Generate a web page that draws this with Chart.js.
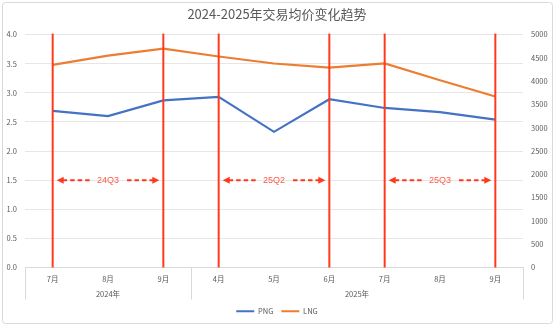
<!DOCTYPE html>
<html>
<head>
<meta charset="utf-8">
<script src="https://cdn.jsdelivr.net/npm/chart.js@4"></script>
<style>
  html, body { margin: 0; padding: 0; background: #fff; }
  #wrap { width: 554px; height: 325px; position: relative; }
</style>
</head>
<body>
<div id="wrap"><canvas id="myChart"></canvas></div>
<script>
"use strict";
var months = ["7月", "8月", "9月", "4月", "5月", "6月", "7月", "8月", "9月"];
var pngPrice = [2.69, 2.60, 2.87, 2.93, 2.33, 2.89, 2.74, 2.67, 2.54];
var lngPrice = [4350, 4550, 4700, 4530, 4380, 4290, 4380, 4020, 3670];
var yearLabels = ["2024年", "2025年"];
var yearStart = [0, 3];
var yearEnd = [2, 8];
var quarterLabels = ["24Q3", "25Q2", "25Q3"];
var quarterStart = [0, 3, 6];
var quarterEnd = [2, 5, 8];
var arrowLevel = 1.5;

var cjkFont = '"Noto Sans CJK SC", "Noto Sans", sans-serif';
var red = "#ff3a1c";

var decoPlugin = {
  id: "deco",
  beforeDraw: function (chart) {
    var c = chart.ctx;
    c.save();
    c.fillStyle = "#ffffff";
    c.fillRect(0, 0, chart.width, chart.height);
    c.strokeStyle = "#d9d9d9";
    c.lineWidth = 1;
    c.beginPath();
    c.roundRect(2.5, 2.5, chart.width - 4, chart.height - 4, 3);
    c.stroke();
    c.restore();
  },
  afterDraw: function (chart) {
    var c = chart.ctx;
    var x = chart.scales.x;
    var y = chart.scales.y;
    var area = chart.chartArea;
    c.save();
    // year group separators and labels
    c.strokeStyle = "#d9d9d9";
    c.lineWidth = 1;
    var half = (x.getPixelForValue(1) - x.getPixelForValue(0)) / 2;
    var seps = [area.left];
    for (var i = 0; i < yearEnd.length; i++) {
      seps.push(x.getPixelForValue(yearEnd[i]) + half);
    }
    seps[seps.length - 1] = area.right;
    seps.forEach(function (sx) {
      c.beginPath();
      c.moveTo(Math.round(sx) + 0.5, area.bottom);
      c.lineTo(Math.round(sx) + 0.5, area.bottom + 32);
      c.stroke();
    });
    c.fillStyle = "#595959";
    c.font = "7.5px " + cjkFont;
    c.textAlign = "center";
    c.textBaseline = "middle";
    for (var j = 0; j < yearLabels.length; j++) {
      var cx = (x.getPixelForValue(yearStart[j]) + x.getPixelForValue(yearEnd[j])) / 2;
      c.fillText(yearLabels[j], cx, area.bottom + 27);
    }
    // quarter markers
    var ay = y.getPixelForValue(arrowLevel);
    c.font = "9px 'Liberation Sans', Arial, sans-serif";
    for (var k = 0; k < quarterLabels.length; k++) {
      var xs = x.getPixelForValue(quarterStart[k]);
      var xe = x.getPixelForValue(quarterEnd[k]);
      c.strokeStyle = red;
      c.lineWidth = 2;
      c.setLineDash([]);
      [xs, xe].forEach(function (lx) {
        c.beginPath();
        c.moveTo(lx, area.top - 1);
        c.lineTo(lx, area.bottom);
        c.stroke();
      });
      var tipL = xs + 4;
      var tipR = xe - 4;
      var mid = (xs + xe) / 2;
      var tw = c.measureText(quarterLabels[k]).width;
      c.setLineDash([4.5, 3]);
      c.beginPath();
      c.moveTo(tipL + 6, ay);
      c.lineTo(mid - tw / 2 - 5, ay);
      c.moveTo(mid + tw / 2 + 8, ay);
      c.lineTo(tipR - 6, ay);
      c.stroke();
      c.setLineDash([]);
      c.fillStyle = red;
      c.beginPath();
      c.moveTo(tipL, ay);
      c.lineTo(tipL + 7, ay - 3.5);
      c.lineTo(tipL + 7, ay + 3.5);
      c.closePath();
      c.fill();
      c.beginPath();
      c.moveTo(tipR, ay);
      c.lineTo(tipR - 7, ay - 3.5);
      c.lineTo(tipR - 7, ay + 3.5);
      c.closePath();
      c.fill();
      c.fillStyle = "#ff5a48";
      c.fillText(quarterLabels[k], mid, ay + 0.5);
    }
    c.restore();
  },
};

var ctx = document.getElementById("myChart");
var myChart = new Chart(ctx, {
  type: "line",
  data: {
    labels: months,
    datasets: [
      {
        label: "PNG",
        data: pngPrice,
        borderColor: "#4472c4",
        backgroundColor: "#4472c4",
        borderWidth: 2.2,
        pointRadius: 0,
        yAxisID: "y",
      },
      {
        label: "LNG",
        data: lngPrice,
        borderColor: "#ed7d31",
        backgroundColor: "#ed7d31",
        borderWidth: 2.2,
        pointRadius: 0,
        yAxisID: "y1",
      },
    ],
  },
  options: {
    responsive: true,
    maintainAspectRatio: false,
    animation: false,
    layout: { padding: { left: 0, right: 0, top: 0, bottom: 0 } },
    plugins: {
      title: {
        display: true,
        text: "2024-2025年交易均价变化趋势",
        color: "#595959",
        font: { family: cjkFont, size: 13, weight: "normal" },
        padding: { top: 6, bottom: 13 },
      },
      legend: {
        position: "bottom",
        labels: {
          usePointStyle: true,
          pointStyle: "line",
          pointStyleWidth: 18,
          color: "#595959",
          padding: 8,
          font: { family: cjkFont, size: 7.5 },
        },
      },
      tooltip: { enabled: false },
    },
    scales: {
      x: {
        offset: true,
        grid: { display: false, drawTicks: false },
        border: { color: "#d9d9d9" },
        ticks: {
          color: "#595959",
          font: { family: cjkFont, size: 7.5 },
          padding: 7,
          maxRotation: 0,
          autoSkip: false,
        },
        afterFit: function (s) { s.height = 32; },
      },
      y: {
        position: "left",
        min: 0,
        max: 4,
        grid: { color: "#e6e6e6", drawTicks: false },
        border: { display: false },
        ticks: {
          stepSize: 0.5,
          color: "#595959",
          font: { family: cjkFont, size: 7.5 },
          padding: 8,
          callback: function (v) { return v.toFixed(1); },
        },
        afterFit: function (s) { s.width = 25; },
      },
      y1: {
        position: "right",
        min: 0,
        max: 5000,
        grid: { display: false, drawTicks: false },
        border: { display: false },
        ticks: {
          stepSize: 500,
          color: "#595959",
          font: { family: cjkFont, size: 7.5 },
          padding: 8,
          callback: function (v) { return String(v); },
        },
        afterFit: function (s) { s.width = 31; },
      },
    },
  },
  plugins: [decoPlugin],
});
</script>
</body>
</html>
